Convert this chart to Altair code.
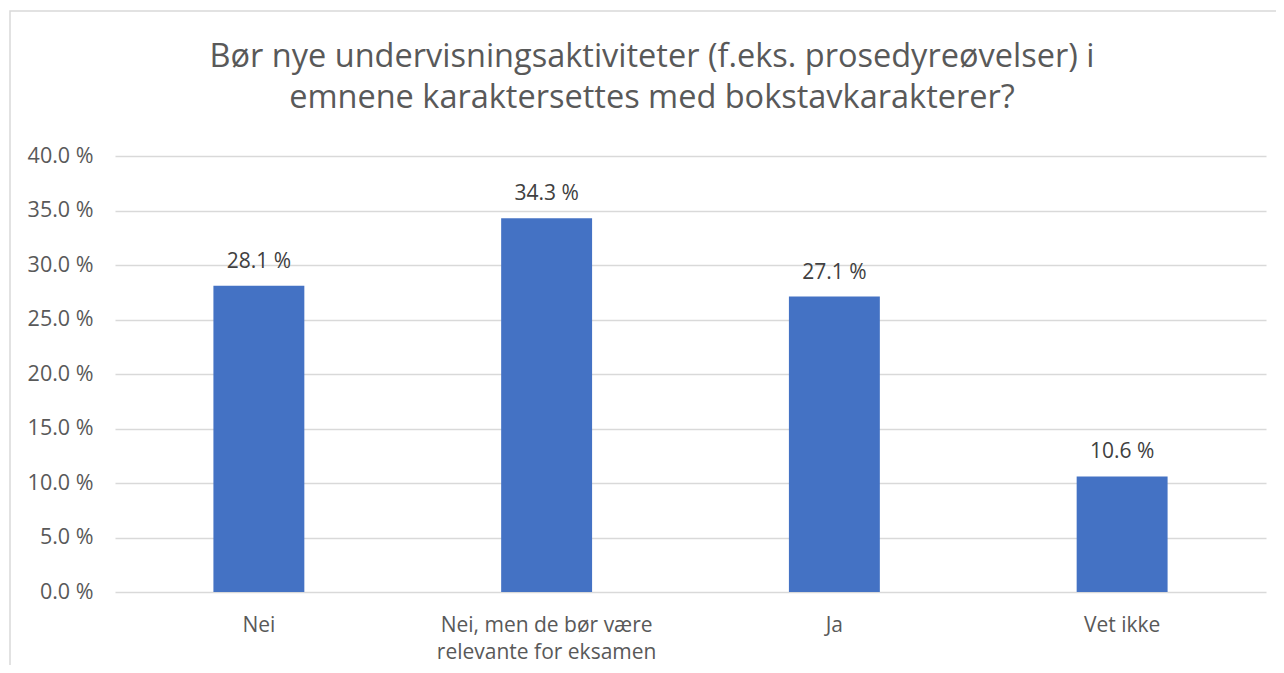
import altair as alt
import pandas as pd

categories = ["Nei", "Nei, men de bør være relevante for eksamen", "Ja", "Vet ikke"]
values = [28.1, 34.3, 27.1, 10.6]
y_ticks = [0, 5, 10, 15, 20, 25, 30, 35, 40]
title_lines = ["Bør nye undervisningsaktiviteter (f.eks. prosedyreøvelser) i",
               "emnene karaktersettes med bokstavkarakterer?"]

df = pd.DataFrame({"kategori": categories, "andel": values})
df["etikett"] = [f"{v:.1f} %" for v in values]

FONT = "Open Sans"
FS = 21

x_enc = alt.X(
    "kategori:N",
    sort=categories,
    title=None,
    scale=alt.Scale(paddingInner=0.684, paddingOuter=0.342),
    axis=alt.Axis(
        labelAngle=0,
        labelFont=FONT,
        labelFontSize=FS,
        labelColor="#595959",
        labelPadding=22,
        labelLineHeight=27,
        labelLimit=400,
        ticks=False,
        domain=False,
        labelExpr="datum.value == 'Nei, men de bør være relevante for eksamen' ? ['Nei, men de bør være', 'relevante for eksamen'] : datum.label",
    ),
)
y_enc = alt.Y(
    "andel:Q",
    title=None,
    scale=alt.Scale(domain=[0, 40], nice=False),
    axis=alt.Axis(
        values=y_ticks,
        labelExpr="format(datum.value, '.1f') + ' %'",
        labelFont=FONT,
        labelFontSize=FS + 0.5,
        labelColor="#595959",
        labelPadding=22,
        ticks=False,
        domain=False,
        grid=True,
        gridColor="#D9D9D9",
        gridWidth=1.3,
    ),
)

bars = alt.Chart(df).mark_bar(color="#4472C4").encode(x=x_enc, y=y_enc)
labels = alt.Chart(df).mark_text(
    font=FONT, fontSize=FS, color="#404040", baseline="middle", dy=-24
).encode(x=alt.X("kategori:N", sort=categories), y="andel:Q", text="etikett:N")

frame = alt.Chart(alt.Data(values=[{}])).mark_rect(
    fill=None, stroke="#D9D9D9", strokeWidth=1.5
).encode(
    x=alt.value(-105), x2=alt.value(1200), y=alt.value(-145), y2=alt.value(600)
)

title1 = alt.Chart(alt.Data(values=[{"t": title_lines[0]}])).mark_text(
    font=FONT, fontSize=32.5, color="#595959", baseline="middle", align="center"
).encode(x=alt.value(537), y=alt.value(-99), text="t:N")
title2 = alt.Chart(alt.Data(values=[{"t": title_lines[1]}])).mark_text(
    font=FONT, fontSize=32.5, color="#595959", baseline="middle", align="center"
).encode(x=alt.value(537), y=alt.value(-58), text="t:N")

chart = alt.layer(frame, bars, labels, title1, title2).properties(
    width=1151,
    height=436,
    autosize=alt.AutoSizeParams(type="none"),
    padding={"left": 107, "top": 148, "right": 10, "bottom": 73},
).configure_view(stroke=None)

chart.save("out.html", embed_options={"renderer": "svg", "actions": False})
